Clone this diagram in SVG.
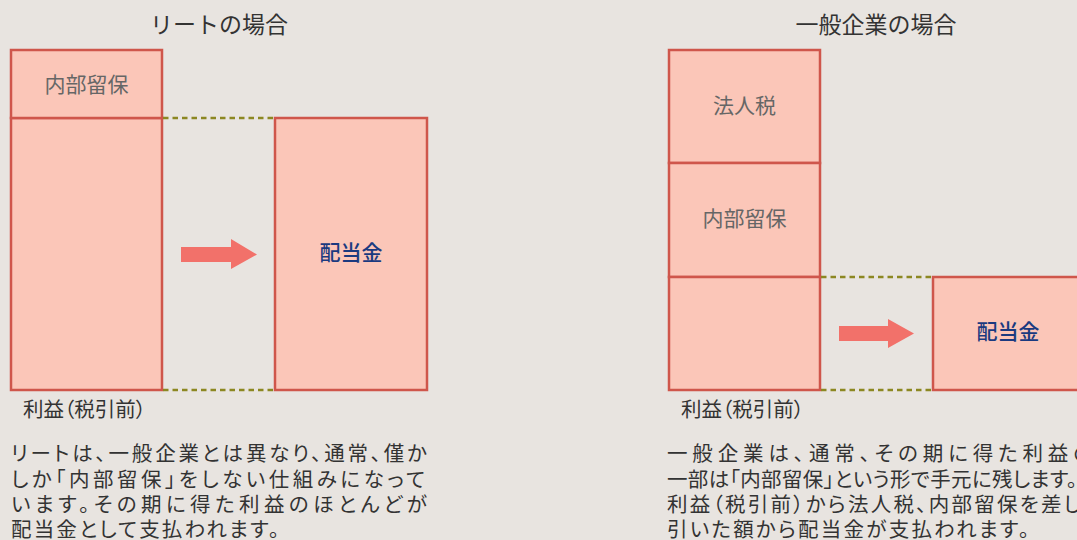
<svg xmlns="http://www.w3.org/2000/svg" width="1077" height="540" viewBox="0 0 1077 540">
<style>
.bg{fill:#e8e4e0}
.box{fill:#fbc6b8;stroke:#cf564b;stroke-width:2.5}
.dot{stroke:#8c8722;stroke-width:2.6;stroke-dasharray:5.5 4;fill:none}
.arrow{fill:#f2716a}
text{font-family:"Noto Sans CJK JP","Noto Sans CJK SC",sans-serif}
.title{font-size:23px;fill:#333;text-anchor:middle}
.lbl{font-size:21px;fill:#666;text-anchor:middle}
.div{font-size:21px;fill:#1a3a80;text-anchor:middle;font-weight:500}
.cap{font-size:20.5px;fill:#333;font-feature-settings:"palt"}
.para{font-size:20.5px;fill:#333;font-feature-settings:"palt"}
</style>
<rect class="bg" x="0" y="0" width="1077" height="540"/>
<text class="title" x="219" y="33" textLength="138" lengthAdjust="spacingAndGlyphs">リートの場合</text>
<text class="title" x="876" y="33">一般企業の場合</text>
<g id="reit-profit">
<rect class="box" x="11" y="118" width="151" height="272"/>
</g>
<g id="reit-retained">
<rect class="box" x="11" y="50" width="151" height="68"/>
<text class="lbl" x="86.5" y="92">内部留保</text>
</g>
<g id="reit-dividend">
<rect class="box" x="275" y="118" width="152" height="272"/>
<text class="div" x="351" y="260">配当金</text>
</g>
<g id="corp-tax">
<rect class="box" x="669" y="50" width="151" height="113"/>
<text class="lbl" x="744.5" y="113">法人税</text>
</g>
<g id="corp-retained">
<rect class="box" x="669" y="163" width="151" height="114"/>
<text class="lbl" x="744.5" y="226">内部留保</text>
</g>
<g id="corp-rest">
<rect class="box" x="669" y="277" width="151" height="113"/>
</g>
<g id="corp-dividend">
<rect class="box" x="933" y="277" width="151" height="113"/>
<text class="div" x="1008" y="339">配当金</text>
</g>
<g id="connectors">
<line class="dot" x1="163" y1="118" x2="274" y2="118"/>
<line class="dot" x1="163" y1="390" x2="274" y2="390"/>
<line class="dot" x1="821" y1="277" x2="932" y2="277"/>
<line class="dot" x1="821" y1="390" x2="932" y2="390"/>
<polygon class="arrow" points="181,247 231,247 231,239 257,254.5 231,269 231,262 181,262"/>
<polygon class="arrow" points="839,326 888,326 888,319 914,333.5 888,348 888,341 839,341"/>
</g>
<text class="cap" x="23" y="417">利益（税引前）</text>
<text class="cap" x="681" y="417">利益（税引前）</text>
<g id="text-left">
<text class="para" x="11" y="461" textLength="416" lengthAdjust="spacing">リートは、一般企業とは異なり、通常、僅か</text>
<text class="para" x="11" y="487" textLength="414" lengthAdjust="spacing">しか「内部留保」をしない仕組みになって</text>
<text class="para" x="11" y="512" textLength="416" lengthAdjust="spacing">います。その期に得た利益のほとんどが</text>
<text class="para" x="11" y="537" textLength="268" lengthAdjust="spacing">配当金として支払われます。</text>
</g>
<g id="text-right">
<text class="para" x="667" y="461" textLength="426" lengthAdjust="spacing">一般企業は、通常、その期に得た利益の</text>
<text class="para" x="667" y="487" textLength="410" lengthAdjust="spacing">一部は「内部留保」という形で手元に残します。</text>
<text class="para" x="667" y="512" textLength="414" lengthAdjust="spacing">利益（税引前）から法人税、内部留保を差し</text>
<text class="para" x="667" y="537" textLength="362" lengthAdjust="spacing">引いた額から配当金が支払われます。</text>
</g>
</svg>
